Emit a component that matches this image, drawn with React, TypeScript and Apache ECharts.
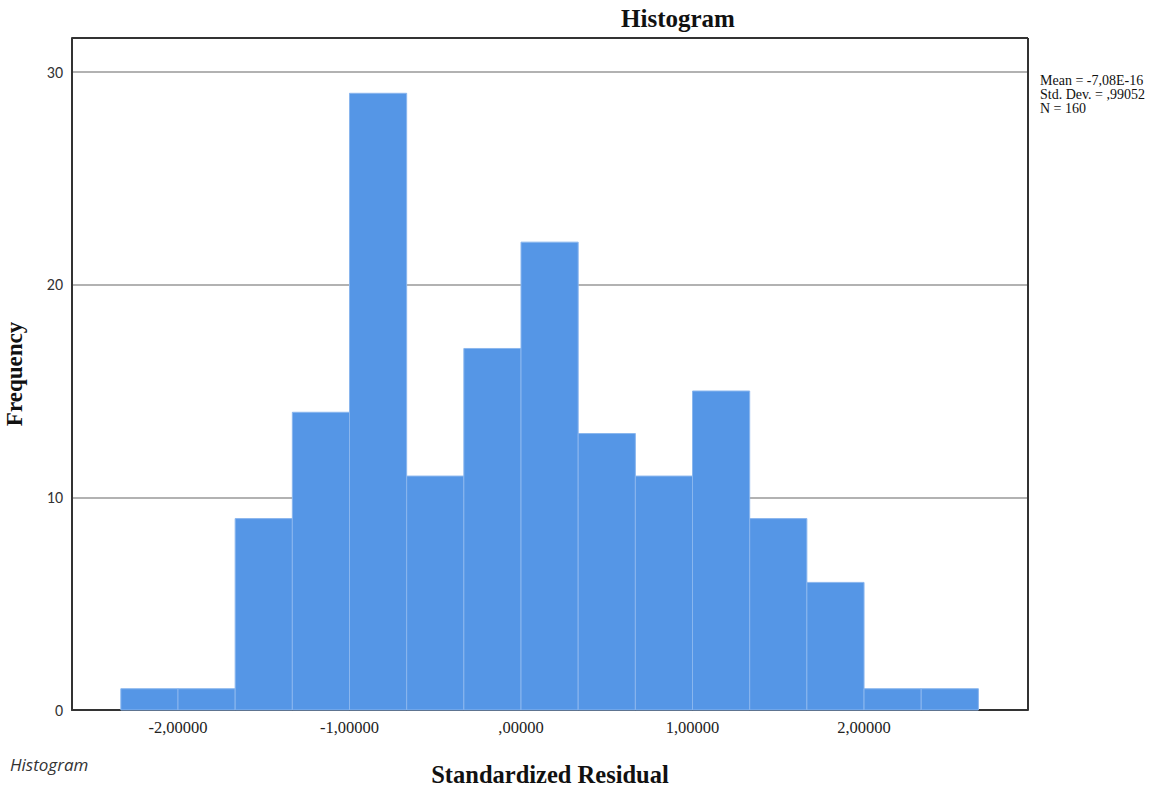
import React, { useEffect, useRef } from "react";
import * as echarts from "echarts";

// Histogram bins of the standardized residuals (left edge, right edge, count)
const binStarts = [-2.3333, -2.0, -1.6667, -1.3333, -1.0, -0.6667, -0.3333, 0.0, 0.3333, 0.6667, 1.0, 1.3333, 1.6667, 2.0, 2.3333];
const binEnds = [-2.0, -1.6667, -1.3333, -1.0, -0.6667, -0.3333, 0.0, 0.3333, 0.6667, 1.0, 1.3333, 1.6667, 2.0, 2.3333, 2.6667];
const counts = [1, 1, 9, 14, 29, 11, 17, 22, 13, 11, 15, 9, 6, 1, 1];

const xTicks = [-2, -1, 0, 1, 2];
const xTickLabels = ["-2,00000", "-1,00000", ",00000", "1,00000", "2,00000"];
const statsLines = ["Mean = -7,08E-16", "Std. Dev. = ,99052", "N = 160"];

const SERIF = "'Liberation Serif', 'DejaVu Serif', serif";
const SANS = "Carlito, 'Liberation Sans', 'Noto Sans', sans-serif";

export default function App() {
  const ref = useRef<HTMLDivElement>(null);

  useEffect(() => {
    if (!ref.current) return;
    const chart = echarts.init(ref.current, null, { renderer: "svg" });
    const data = counts.map((c, i) => [binStarts[i], binEnds[i], c]);

    chart.setOption({
      animation: false,
      backgroundColor: "#ffffff",
      title: {
        text: "Histogram",
        left: 673,
        top: 1,
        textAlign: "center",
        textStyle: { fontFamily: SERIF, fontSize: 25, fontWeight: "bold", color: "#111" },
      },
      grid: { left: 72, top: 38, right: 148, bottom: 77, show: false, outerBoundsMode: "none", containLabel: false },
      xAxis: {
        type: "value",
        min: -2.618,
        max: 2.956,
        name: "Standardized Residual",
        nameLocation: "middle",
        nameGap: 52,
        nameTextStyle: { fontFamily: SERIF, fontSize: 24.5, fontWeight: "bold", color: "#111" },
        axisLine: { show: true, onZero: false, lineStyle: { color: "#333", width: 2 } },
        axisTick: { show: false },
        splitLine: { show: false },
        axisLabel: {
          customValues: xTicks,
          formatter: (v: number) => xTickLabels[xTicks.indexOf(Math.round(v))] ?? "",
          fontFamily: SERIF,
          fontSize: 16.5,
          color: "#222",
          margin: 9,
        },
      },
      yAxis: {
        type: "value",
        min: 0,
        max: 31.6,
        interval: 10,
        name: "Frequency",
        nameLocation: "middle",
        nameGap: 46,
        nameRotate: 90,
        nameTextStyle: { fontFamily: SERIF, fontSize: 23, fontWeight: "bold", color: "#111" },
        axisLine: { show: true, onZero: false, lineStyle: { color: "#333", width: 2 } },
        axisTick: { show: false },
        splitLine: { show: true, lineStyle: { color: "#999", width: 1.5 } },
        axisLabel: {
          fontFamily: SANS,
          fontSize: 16,
          color: "#333",
          margin: 9,
          showMaxLabel: false,
          formatter: (v: number) => (v % 10 === 0 ? String(v) : ""),
        },
      },
      series: [
        {
          type: "custom",
          renderItem: (params: any, api: any) => {
            const x0 = api.value(0);
            const x1 = api.value(1);
            const c = api.value(2);
            const p0 = api.coord([x0, c]);
            const p1 = api.coord([x1, 0]);
            return {
              type: "rect",
              shape: { x: p0[0], y: p0[1], width: p1[0] - p0[0], height: p1[1] - p0[1] },
              style: { fill: "#5596e6", stroke: "#8ab6ee", lineWidth: 1 },
            };
          },
          encode: { x: [0, 1], y: 2 },
          data,
          z: 1,
        },
      ],
      graphic: [
        // frame: top and right edges of the plot area
        { type: "line", shape: { x1: 72, y1: 38, x2: 1028, y2: 38 }, style: { stroke: "#333", lineWidth: 2 }, z: 10 },
        { type: "line", shape: { x1: 1028, y1: 38, x2: 1028, y2: 710 }, style: { stroke: "#333", lineWidth: 2 }, z: 10 },
        ...statsLines.map((t, i) => ({
          type: "text",
          left: 1040,
          top: 73 + i * 14,
          style: { text: t, font: `14px ${SERIF}`, fill: "#111" },
        })),
        {
          type: "text",
          left: 10,
          top: 756,
          style: { text: "Histogram", font: `italic 17px 'Open Sans', sans-serif`, fill: "#333" },
        },
      ],
    });

    return () => chart.dispose();
  }, []);

  return (
    <div
      ref={ref}
      style={{ position: "absolute", left: 0, top: 0, width: 1176, height: 787, background: "#fff" }}
    />
  );
}
